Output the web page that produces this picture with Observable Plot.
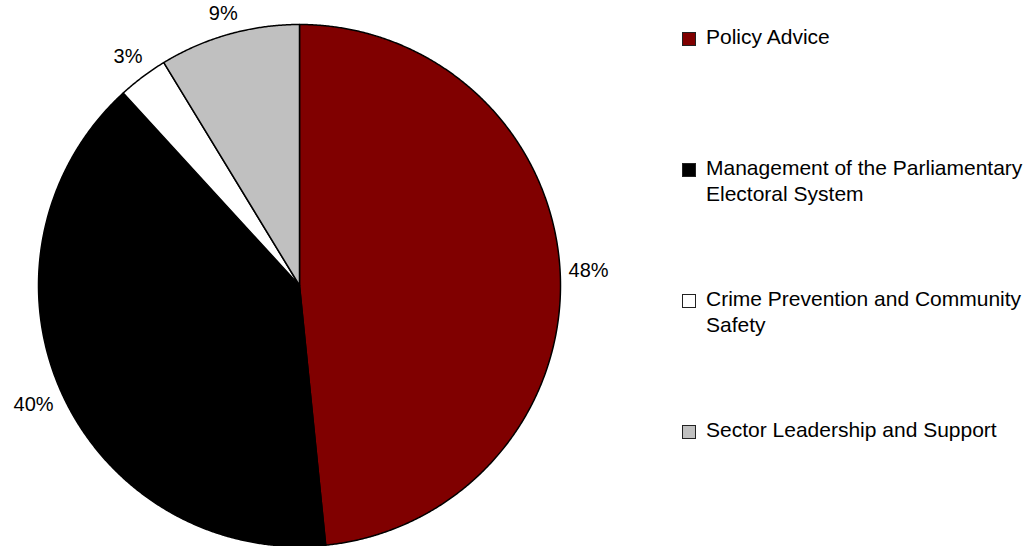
<!DOCTYPE html>
<html><head><meta charset="utf-8">
<script src="https://cdn.jsdelivr.net/npm/d3@7"></script>
<script src="https://cdn.jsdelivr.net/npm/@observablehq/plot@0.6"></script>
<style>
body{margin:0;background:#fff;font-family:"Liberation Sans",Arial,sans-serif;}
#wrap{position:relative;width:1027px;height:546px;overflow:hidden;background:#fff}
#legend{position:absolute;left:682px;top:0}
.item{position:absolute;left:0;display:flex;align-items:flex-start;white-space:pre;font-size:21px;line-height:26px;color:#000}
.sw{width:12px;height:12px;border:1px solid #222;margin-top:8px;margin-right:10px;flex:none}
</style></head><body><div id="wrap"><div id="chart"></div><div id="legend"></div></div>
<script>
const categories = ["Policy Advice", "Management of the Parliamentary Electoral System", "Crime Prevention and Community Safety", "Sector Leadership and Support"];
const legendText = ["Policy Advice", "Management of the Parliamentary\nElectoral System", "Crime Prevention and Community\nSafety", "Sector Leadership and Support"];
const values = [48.4, 39.8, 3.1, 8.7];
const labels = ["48%", "40%", "3%", "9%"];
const colors = ["#800000", "#000000", "#ffffff", "#c0c0c0"];

const W = 670, H = 546, R = 261, CX = 299, CY = 285;
const data = categories.map((c, i) => ({cat: c, value: values[i], label: labels[i]}));
const arcs = d3.pie().sort(null).value(d => d.value)(data);

const slices = [];
arcs.forEach(a => {
  const cat = a.data.cat;
  const n = Math.max(2, Math.ceil((a.endAngle - a.startAngle) / 0.005));
  slices.push({cat, x: 0, y: 0});
  for (let i = 0; i <= n; i++) {
    const t = a.startAngle + (a.endAngle - a.startAngle) * i / n;
    slices.push({cat, x: Math.sin(t), y: Math.cos(t)});
  }
  slices.push({cat, x: 0, y: 0});
});

const labelData = arcs.map(a => {
  const m = (a.startAngle + a.endAngle) / 2;
  const s = Math.sin(m), c = Math.cos(m);
  const w = (a.data.label.length - 1) * 11.1 + 17.8, h = 20;
  const ext = Math.abs(s) * w / 2 + Math.abs(c) * h / 2;
  const r = (R + 8 + ext) / R;
  return {x: s * r, y: c * r, label: a.data.label};
});

const chart = Plot.plot({
  width: W, height: H, margin: 0,
  style: {fontFamily: "Liberation Sans, Arial, sans-serif", background: "#fff"},
  x: {domain: [-CX / R, (W - CX) / R], axis: null},
  y: {domain: [(CY - H) / R, CY / R], axis: null},
  color: {domain: categories, range: colors},
  marks: [
    Plot.line(slices, {x: "x", y: "y", z: "cat", fill: "cat", stroke: "#000", strokeWidth: 1.5, strokeLinejoin: "round"}),
    Plot.text(labelData, {x: "x", y: "y", text: "label", fontSize: 20, fill: "#000"})
  ]
});
document.getElementById("chart").appendChild(chart);

const legend = document.getElementById("legend");
legendText.forEach((t, i) => {
  const item = document.createElement("div");
  item.className = "item";
  item.style.top = (24 + i * 131) + "px";
  const sw = document.createElement("div");
  sw.className = "sw";
  sw.style.background = colors[i];
  const tx = document.createElement("div");
  tx.textContent = t;
  item.appendChild(sw);
  item.appendChild(tx);
  legend.appendChild(item);
});
</script>
</body></html>
